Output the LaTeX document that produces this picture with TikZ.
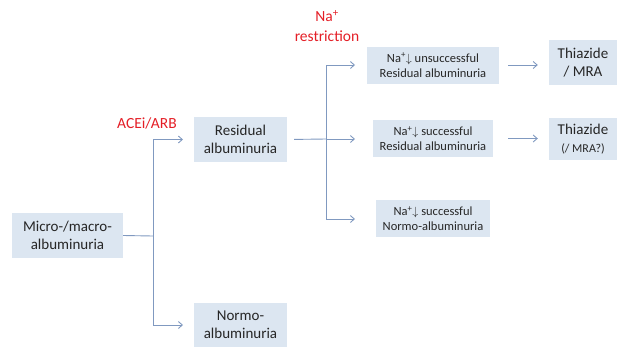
\documentclass[tikz,border=0pt]{standalone}
\usepackage{fontspec}
\setmainfont{Carlito}
\usetikzlibrary{arrows.meta}

\definecolor{boxfill}{RGB}{220,230,241}
\definecolor{linecol}{RGB}{128,153,192}
\definecolor{drugred}{RGB}{228,30,38}

\tikzset{
  bigbox/.style={fill=boxfill, minimum width=#1, minimum height=45pt, inner sep=0pt,
    align=center, font=\fontsize{15}{18}\selectfont, text=black!85},
  smallbox/.style={fill=boxfill, minimum width=#1, minimum height=37pt, inner sep=0pt,
    align=center, font=\fontsize{12.5}{15}\selectfont, text=black!85},
  link/.style={draw=linecol, line width=0.9pt},
  flow/.style={link, -{Straight Barb[length=4pt, width=7pt]}},
  drug/.style={text=drugred, align=center, font=\fontsize{15.5}{20}\selectfont}
}

\begin{document}
\begin{tikzpicture}[x=1pt, y=-1pt]
    \useasboundingbox (0,0) rectangle (618,346);

    \node[bigbox=111pt] (micro) at (67.5, 235.5) {Micro-/macro-\\albuminuria};
    \node[bigbox=93pt] (resid) at (240.5, 139.5) {Residual\\albuminuria};
    \node[bigbox=93pt] (normo) at (240.5, 325) {Normo-\\albuminuria};
    \node[smallbox=132pt] (unsucc) at (433, 65) {Na\textsuperscript{+}$\downarrow$ unsuccessful\\Residual albuminuria};
    \node[smallbox=120pt] (succ) at (433, 138.5) {Na\textsuperscript{+}$\downarrow$ successful\\Residual albuminuria};
    \node[smallbox=114pt] (normosucc) at (433, 218.5) {Na\textsuperscript{+}$\downarrow$ successful\\Normo-albuminuria};
    \node[bigbox=68pt] (thiaA) at (583, 62.5) {Thiazide\\/ MRA};
    \node[bigbox=68pt, minimum height=42pt] (thiaB) at (583, 139) {Thiazide\\{\fontsize{12}{14}\selectfont(/ MRA?)}};

    \node[drug] (acei) at (147, 123) {ACEi/ARB};
    \node[drug] (nalabel) at (327, 26) {Na\textsuperscript{+}\\restriction};

    % junctions and arrow ends
    \coordinate (j1) at (153, 236);
    \coordinate (j2) at (326, 139);
    \coordinate (e1) at (183, 139.5);
    \coordinate (e2) at (183, 325);
    \coordinate (e3) at (355, 65);
    \coordinate (e4) at (355, 139);
    \coordinate (e5) at (355, 219);

    \draw[link] (micro.east) -- (j1);
    \draw[flow] (j1) |- (e1);
    \draw[flow] (j1) |- (e2);
    \draw[link, shorten <=7pt] (resid.east) -- (j2);
    \draw[flow] (j2) |- (e3);
    \draw[flow] (j2) -- (e4);
    \draw[flow] (j2) |- (e5);
    \draw[flow, shorten <=9pt, shorten >=11pt] (unsucc.east) -- (thiaA.west |- unsucc.east);
    \draw[flow, shorten <=15pt, shorten >=11pt] (succ.east) -- (thiaB.west |- succ.east);
\end{tikzpicture}
\end{document}
